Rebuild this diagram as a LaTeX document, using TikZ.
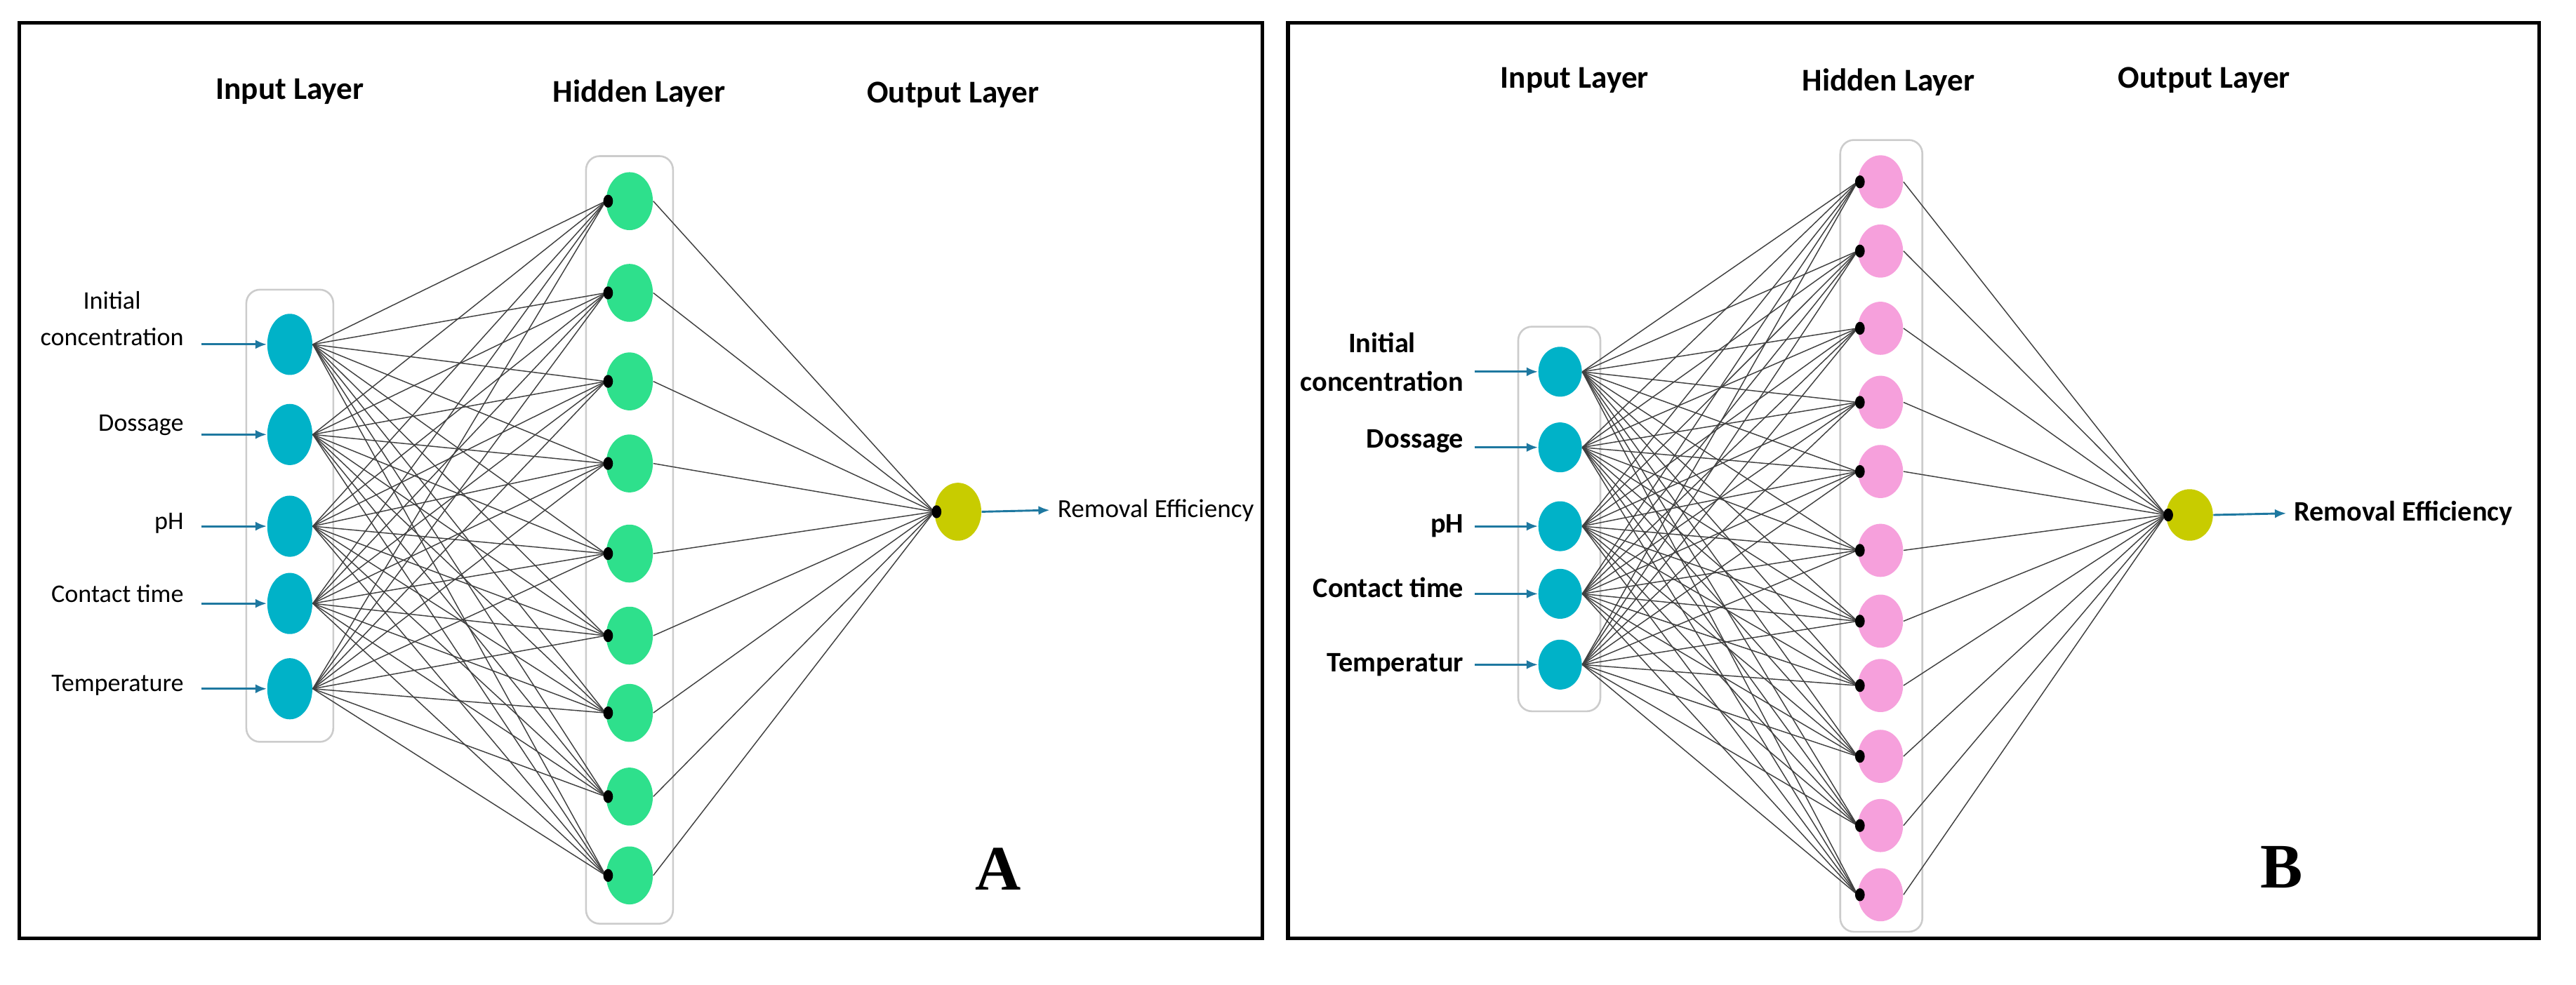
\documentclass[tikz,border=0pt]{standalone}
\usepackage{fontspec}
\setmainfont{Carlito}
\newfontfamily\timesf{Liberation Serif}
\begin{document}
\begin{tikzpicture}[x=0.025cm,y=-0.025cm,
 inp/.style={ellipse,fill=cInp,minimum width=28*0.025cm,minimum height=38*0.025cm,inner sep=0},
 hidA/.style={ellipse,fill=cHidA,minimum width=29*0.025cm,minimum height=36*0.025cm,inner sep=0},
 hidB/.style={ellipse,fill=cHidB,minimum width=28*0.025cm,minimum height=33*0.025cm,inner sep=0},
 outp/.style={ellipse,fill=cOut,minimum width=29*0.025cm,minimum height=36*0.025cm,inner sep=0},
 lay/.style={rounded corners=6pt,draw=black!20,line width=0.8pt},
 conn/.style={draw=black!75,line width=0.45pt},
 inarrow/.style={draw=cArr,line width=0.9pt,-{Latex[length=5pt,width=4pt]}},
 title/.style={font=\fontsize{14}{16}\selectfont\bfseries},
 lblA/.style={font=\fontsize{11.2}{13}\selectfont,anchor=east,align=center},
 lblB/.style={font=\fontsize{12.5}{14}\selectfont\bfseries,anchor=east,align=center},
 frame/.style={draw=black,line width=1.6pt},
 tag/.style={font=\fontsize{28}{30}\selectfont\bfseries\timesf}]
\usetikzlibrary{shapes.geometric,arrows.meta}
\definecolor{cInp}{RGB}{0,178,200}
\definecolor{cHidA}{RGB}{46,224,140}
\definecolor{cHidB}{RGB}{246,160,220}
\definecolor{cOut}{RGB}{200,204,0}
\definecolor{cArr}{RGB}{30,120,160}
\path[use as bounding box,fill=white] (0,0) rectangle (1600,612);
% ---------- Panel A ----------
\draw[frame] (12,14) rectangle (784,583);
\node[title] (tA1) at (180,57) {Input Layer};
\node[title] (tA2) at (397,58) {Hidden Layer};
\node[title] (tA3) at (592,59) {Output Layer};
\draw[lay] (153,180) rectangle (207,461);
\draw[lay] (364,97) rectangle (418,574);
\foreach \i/\y in {1/214,2/270,3/327,4/375,5/428}{\node[inp] (a\i) at (180,\y) {};}
\foreach \j/\y in {1/125,2/182,3/237,4/288,5/344,6/395,7/443,8/495,9/544}{\node[hidA] (ah\j) at (391,\y) {};}
\node[outp] (ao) at (595,318) {};
\foreach \i in {1,...,5}{\foreach \j in {1,...,9}{\draw[conn] (a\i.east) -- (ah\j.west);}}
\foreach \j in {1,...,9}{\draw[conn] (ah\j.east) -- (ao.west); \fill (ah\j.west) ++(1.5,0) circle[x radius=3,y radius=4];}
\fill (ao.west) ++(1.5,0) circle[x radius=3,y radius=4];
\node[lblA] (la1) at (119,198) {Initial\\[3pt]concentration};
\node[lblA] (la2) at (119,264) {Dossage};
\node[lblA] (la3) at (119,325) {pH};
\node[lblA] (la4) at (119,369) {Contact time};
\node[lblA] (la5) at (119,426) {Temperature};
\foreach \i/\y in {1/214,2/270,3/327,4/375,5/428}{\coordinate (sa\i) at (125,\y); \draw[inarrow] (sa\i) -- (a\i.west);}
\node[font=\fontsize{11.5}{13}\selectfont,anchor=west] (rA) at (652,317) {Removal Efficiency};
\draw[inarrow] (ao.east) -- (rA.west);
\node[tag] (A) at (620,540) {A};
% ---------- Panel B ----------
\draw[frame] (800,14) rectangle (1577,583);
\node[title] (tB1) at (978,50) {Input Layer};
\node[title] (tB2) at (1173,51) {Hidden Layer};
\node[title] (tB3) at (1369,50) {Output Layer};
\draw[lay] (943,203) rectangle (994,442);
\draw[lay] (1143,87) rectangle (1194,579);
\foreach \i/\y in {1/231,2/278,3/327,4/369,5/413}{\node[inp,minimum height=31*0.025cm,minimum width=27*0.025cm] (b\i) at (969,\y) {};}
\foreach \j/\y in {1/113,2/156,3/204,4/250,5/293,6/342,7/386,8/426,9/470,10/513,11/556}{\node[hidB] (bh\j) at (1168,\y) {};}
\node[outp,minimum height=32*0.025cm] (bo) at (1360,320) {};
\foreach \i in {1,...,5}{\foreach \j in {1,...,11}{\draw[conn] (b\i.east) -- (bh\j.west);}}
\foreach \j in {1,...,11}{\draw[conn] (bh\j.east) -- (bo.west); \fill (bh\j.west) ++(1.5,0) circle[x radius=3,y radius=4];}
\fill (bo.west) ++(1.5,0) circle[x radius=3,y radius=4];
\node[lblB] (lb1) at (914,225) {Initial\\[3pt]concentration};
\node[lblB] (lb2) at (914,274) {Dossage};
\node[lblB] (lb3) at (914,327) {pH};
\node[lblB] (lb4) at (914,365) {Contact time};
\node[lblB] (lb5) at (914,413) {Temperatur};
\foreach \i/\y in {1/231,2/278,3/327,4/369,5/413}{\coordinate (sb\i) at (916,\y); \draw[inarrow] (sb\i) -- (b\i.west);}
\node[font=\fontsize{12.5}{14}\selectfont\bfseries,anchor=west] (rB) at (1420,319) {Removal Efficiency};
\draw[inarrow] (bo.east) -- (rB.west);
\node[tag] (B) at (1417,539) {B};
\end{tikzpicture}
\end{document}
